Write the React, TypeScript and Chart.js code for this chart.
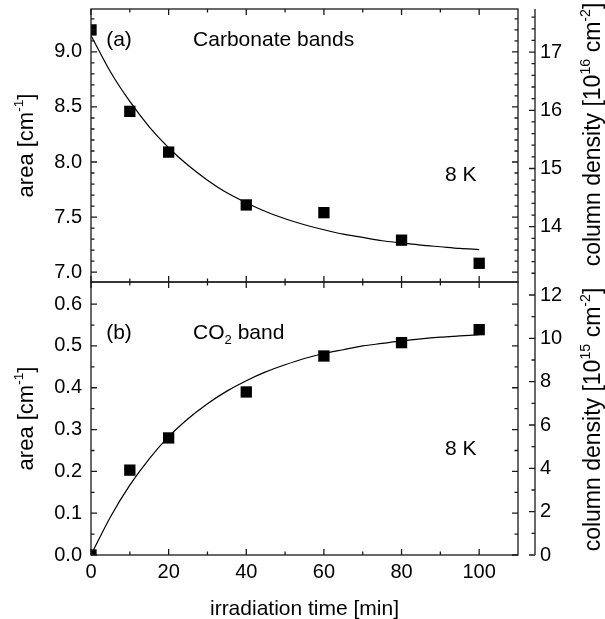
import React, { useEffect, useRef } from "react";
import { Chart, registerables } from "chart.js";
Chart.register(...registerables);

// ---------- data ----------
const times = [0, 10, 20, 40, 60, 80, 100];
const carbonateArea = [9.2, 8.46, 8.09, 7.61, 7.54, 7.29, 7.08];
const co2Area = [0.0, 0.203, 0.28, 0.39, 0.476, 0.508, 0.539];

const fitTimes = [0, 5, 10, 15, 20, 25, 30, 35, 40, 45, 50, 55, 60, 65, 70, 75, 80, 85, 90, 95, 100];
const carbonateFit = [9.15, 8.82, 8.55, 8.32, 8.13, 7.97, 7.835, 7.72, 7.63, 7.55, 7.485, 7.43, 7.385, 7.345, 7.315, 7.285, 7.265, 7.245, 7.23, 7.215, 7.205];
const co2Fit = [0.0, 0.091, 0.167, 0.23, 0.283, 0.326, 0.362, 0.392, 0.417, 0.438, 0.455, 0.47, 0.482, 0.491, 0.5, 0.506, 0.512, 0.517, 0.521, 0.524, 0.527];

const xTickLabels = [0, 20, 40, 60, 80, 100];
const xMinorTicks = [10, 30, 50, 70, 90];

const topAreaMajor = [7.0, 7.5, 8.0, 8.5, 9.0];
const topAreaMinor = [7.1, 7.2, 7.3, 7.4, 7.6, 7.7, 7.8, 7.9, 8.1, 8.2, 8.3, 8.4, 8.6, 8.7, 8.8, 8.9, 9.1, 9.2, 9.3];
const topDensityMajor = [14, 15, 16, 17];
const topDensityMinor = [13.2, 13.4, 13.6, 13.8, 14.2, 14.4, 14.6, 14.8, 15.2, 15.4, 15.6, 15.8, 16.2, 16.4, 16.6, 16.8, 17.2, 17.4, 17.6];

const botAreaMajor = [0.0, 0.1, 0.2, 0.3, 0.4, 0.5, 0.6];
const botAreaMinor = [0.05, 0.15, 0.25, 0.35, 0.45, 0.55];
const botDensityMajor = [0, 2, 4, 6, 8, 10, 12];
const botDensityMinor = [1, 3, 5, 7, 9, 11];

const topAreaRange = [6.91, 9.39];
const topDensityRange = [13.05, 17.74];
const botAreaRange = [0, 0.653];
const botDensityRange = [0, 12.6];
const xRange = [0, 110];

// ---------- helpers ----------
const FONT = '"Liberation Sans", Arial, sans-serif';
type Seg = { t: string; s?: "sup" | "sub" };

function richWidth(ctx: CanvasRenderingContext2D, segs: Seg[], size: number) {
  let w = 0;
  for (const s of segs) {
    ctx.font = `${s.s ? size * 0.62 : size}px ${FONT}`;
    w += ctx.measureText(s.t).width;
  }
  return w;
}
function drawRich(ctx: CanvasRenderingContext2D, segs: Seg[], x: number, baseline: number, size: number) {
  let cx = x;
  ctx.textAlign = "left";
  ctx.textBaseline = "alphabetic";
  for (const s of segs) {
    const fs = s.s ? size * 0.62 : size;
    ctx.font = `${fs}px ${FONT}`;
    const dy = s.s === "sup" ? -size * 0.42 : s.s === "sub" ? size * 0.22 : 0;
    ctx.fillText(s.t, cx, baseline + dy);
    cx += ctx.measureText(s.t).width;
  }
}
function drawRichRotated(ctx: CanvasRenderingContext2D, segs: Seg[], cx: number, cy: number, size: number) {
  ctx.save();
  ctx.translate(cx, cy);
  ctx.rotate(-Math.PI / 2);
  const w = richWidth(ctx, segs, size);
  drawRich(ctx, segs, -w / 2, size * 0.35, size);
  ctx.restore();
}

type TextItem = { segs: Seg[]; xv: number; yv: number };
type FrameCfg = {
  leftMajor: number[];
  leftMinor: number[];
  rightMajor: number[];
  rightMinor: number[];
  texts: TextItem[];
  leftTitle: Seg[];
  rightTitle: Seg[];
  rightTitleShift: number;
  bottomTitle?: Seg[];
};

function framePlugin(cfg: FrameCfg) {
  return {
    id: "frame",
    afterDatasetsDraw(chart: any) {
      const { ctx, chartArea } = chart;
      const { left, right, top, bottom } = chartArea;
      const xs = chart.scales.x;
      const ys = chart.scales.y;
      const y2 = chart.scales.y2;
      const MAJ = 6;
      const MIN = 3.5;
      ctx.save();
      ctx.strokeStyle = "#1a1a1a";
      ctx.lineWidth = 1.3;
      ctx.strokeRect(left, top, right - left, bottom - top);
      ctx.beginPath();
      const vt = (scale: any, vals: number[], x0: number, dir: number, len: number) => {
        for (const v of vals) {
          const py = scale.getPixelForValue(v);
          ctx.moveTo(x0, py);
          ctx.lineTo(x0 + dir * len, py);
        }
      };
      const ht = (vals: number[], y0: number, dir: number, len: number) => {
        for (const v of vals) {
          const px = xs.getPixelForValue(v);
          ctx.moveTo(px, y0);
          ctx.lineTo(px, y0 + dir * len);
        }
      };
      vt(ys, cfg.leftMajor, left, 1, MAJ);
      vt(ys, cfg.leftMinor, left, 1, MIN);
      vt(ys, cfg.leftMajor, right, -1, MAJ);
      vt(ys, cfg.leftMinor, right, -1, MIN);
      ht(xTickLabels, bottom, -1, MAJ);
      ht(xMinorTicks, bottom, -1, MIN);
      ht(xTickLabels, top, 1, MAJ);
      ht(xMinorTicks, top, 1, MIN);
      // offset right axis
      const ax = right + 17;
      ctx.moveTo(ax, top);
      ctx.lineTo(ax, bottom);
      vt(y2, cfg.rightMajor, ax, -1, MAJ);
      vt(y2, cfg.rightMinor, ax, -1, MIN);
      ctx.stroke();

      ctx.fillStyle = "#000";
      const size = 21;
      for (const t of cfg.texts) {
        const px = xs.getPixelForValue(t.xv);
        const py = ys.getPixelForValue(t.yv);
        drawRich(ctx, t.segs, px, py + size * 0.36, size);
      }
      const cy = (top + bottom) / 2;
      drawRichRotated(ctx, cfg.leftTitle, 25, cy, 22);
      drawRichRotated(ctx, cfg.rightTitle, 592, cy + cfg.rightTitleShift, 23);
      if (cfg.bottomTitle) {
        const w = richWidth(ctx, cfg.bottomTitle, size);
        drawRich(ctx, cfg.bottomTitle, (left + right) / 2 - w / 2, bottom + 60, size);
      }
      ctx.restore();
    },
  };
}

function buildChart(
  canvas: HTMLCanvasElement,
  opts: {
    area: number[];
    fit: number[];
    areaRange: number[];
    densityRange: number[];
    areaMajor: number[];
    densityMajor: number[];
    padTop: number;
    xHeight: number;
    showX: boolean;
    frame: FrameCfg;
  }
) {
  const tickFont = { family: FONT, size: 20 };
  const noPad = (s: any) => {
    s.paddingTop = 0;
    s.paddingBottom = 0;
    s.paddingLeft = 0;
    s.paddingRight = 0;
  };
  return new Chart(canvas, {
    type: "scatter",
    data: {
      datasets: [
        {
          data: times.map((t, i) => ({ x: t, y: opts.area[i] })),
          pointStyle: "rect",
          pointRadius: 8,
          pointBackgroundColor: "#000",
          pointBorderWidth: 0,
          showLine: false,
          clip: 0,
          yAxisID: "y",
        } as any,
        {
          type: "line",
          data: fitTimes.map((t, i) => ({ x: t, y: opts.fit[i] })),
          borderColor: "#000",
          borderWidth: 1.2,
          pointRadius: 0,
          fill: false,
          cubicInterpolationMode: "monotone",
          clip: 0,
          yAxisID: "y",
        } as any,
      ],
    },
    options: {
      responsive: false,
      animation: false,
      events: [],
      layout: { padding: { top: opts.padTop, left: 0, right: 0, bottom: 0 } },
      plugins: { legend: { display: false }, tooltip: { enabled: false } },
      scales: {
        x: {
          type: "linear",
          min: xRange[0],
          max: xRange[1],
          position: "bottom",
          grid: { display: false, drawTicks: false },
          border: { display: false },
          ticks: {
            display: opts.showX,
            font: tickFont,
            color: "#000",
            padding: 5,
            autoSkip: false,
            maxRotation: 0,
            callback: (v: any) => String(v),
          },
          afterBuildTicks: (s: any) => {
            s.ticks = xTickLabels.map((v) => ({ value: v }));
          },
          afterFit: (s: any) => {
            s.height = opts.xHeight;
            noPad(s);
          },
        },
        y: {
          type: "linear",
          position: "left",
          min: opts.areaRange[0],
          max: opts.areaRange[1],
          grid: { display: false, drawTicks: false },
          border: { display: false },
          ticks: {
            font: tickFont,
            color: "#000",
            padding: 9,
            autoSkip: false,
            callback: (v: any) => Number(v).toFixed(1),
          },
          afterBuildTicks: (s: any) => {
            s.ticks = opts.areaMajor.map((v) => ({ value: v }));
          },
          afterFit: (s: any) => {
            s.width = 91;
            noPad(s);
          },
        },
        y2: {
          type: "linear",
          position: "right",
          min: opts.densityRange[0],
          max: opts.densityRange[1],
          grid: { display: false, drawTicks: false },
          border: { display: false },
          ticks: {
            font: tickFont,
            color: "#000",
            padding: 22,
            autoSkip: false,
            callback: (v: any) => String(v),
          },
          afterBuildTicks: (s: any) => {
            s.ticks = opts.densityMajor.map((v) => ({ value: v }));
          },
          afterFit: (s: any) => {
            s.width = 87;
            noPad(s);
          },
        },
      },
    } as any,
    plugins: [framePlugin(opts.frame) as any],
  });
}

export default function App() {
  const topRef = useRef<HTMLCanvasElement>(null);
  const botRef = useRef<HTMLCanvasElement>(null);

  useEffect(() => {
    const top = buildChart(topRef.current!, {
      area: carbonateArea,
      fit: carbonateFit,
      areaRange: topAreaRange,
      densityRange: topDensityRange,
      areaMajor: topAreaMajor,
      densityMajor: topDensityMajor,
      padTop: 9,
      xHeight: 10,
      showX: false,
      frame: {
        leftMajor: topAreaMajor,
        leftMinor: topAreaMinor,
        rightMajor: topDensityMajor,
        rightMinor: topDensityMinor,
        texts: [
          { segs: [{ t: "(a)" }], xv: 3.9, yv: 9.127 },
          { segs: [{ t: "Carbonate bands" }], xv: 26.3, yv: 9.127 },
          { segs: [{ t: "8 K" }], xv: 91.2, yv: 7.9 },
        ],
        leftTitle: [{ t: "area [cm" }, { t: "-1", s: "sup" }, { t: "]" }],
        rightTitle: [{ t: "column density [10" }, { t: "16", s: "sup" }, { t: " cm" }, { t: "-2", s: "sup" }, { t: "]" }],
        rightTitleShift: -11,
      },
    });
    const bot = buildChart(botRef.current!, {
      area: co2Area,
      fit: co2Fit,
      areaRange: botAreaRange,
      densityRange: botDensityRange,
      areaMajor: botAreaMajor,
      densityMajor: botDensityMajor,
      padTop: 10,
      xHeight: 64,
      showX: true,
      frame: {
        leftMajor: botAreaMajor,
        leftMinor: botAreaMinor,
        rightMajor: botDensityMajor,
        rightMinor: botDensityMinor,
        texts: [
          { segs: [{ t: "(b)" }], xv: 3.9, yv: 0.535 },
          { segs: [{ t: "CO" }, { t: "2", s: "sub" }, { t: " band" }], xv: 26.3, yv: 0.535 },
          { segs: [{ t: "8 K" }], xv: 91.2, yv: 0.258 },
        ],
        leftTitle: [{ t: "area [cm" }, { t: "-1", s: "sup" }, { t: "]" }],
        rightTitle: [{ t: "column density [10" }, { t: "15", s: "sup" }, { t: " cm" }, { t: "-2", s: "sup" }, { t: "]" }],
        rightTitleShift: 1,
        bottomTitle: [{ t: "irradiation time [min]" }],
      },
    });
    return () => {
      top.destroy();
      bot.destroy();
    };
  }, []);

  return (
    <div style={{ position: "absolute", left: 0, top: 0, width: 605, height: 619, background: "#fff" }}>
      <canvas ref={topRef} width={605} height={292} style={{ position: "absolute", left: 0, top: 0, width: 605, height: 292 }} />
      <canvas ref={botRef} width={605} height={347} style={{ position: "absolute", left: 0, top: 272, width: 605, height: 347 }} />
    </div>
  );
}
